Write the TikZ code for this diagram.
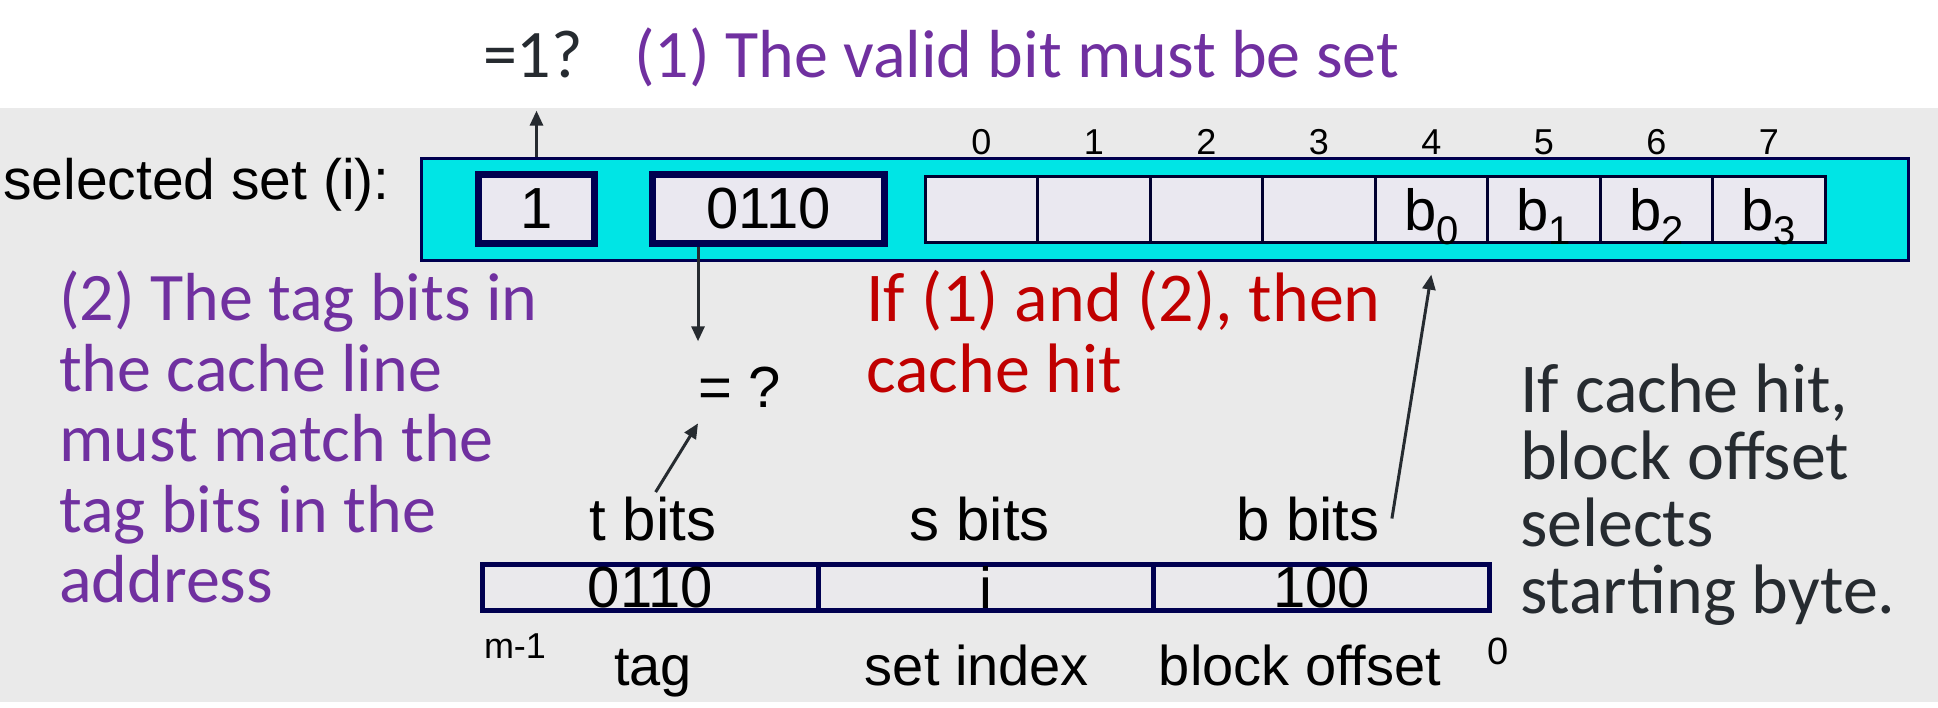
\documentclass[tikz,border=0pt]{standalone}
\usepackage{fontspec}
\usepackage{xcolor}
\usepackage{tikz}
\usetikzlibrary{positioning, arrows.meta}

\newfontfamily\arialfont{Liberation Sans}
\newfontfamily\calfont{Carlito}

\definecolor{bggray}{RGB}{234,234,234}
\definecolor{setcyan}{RGB}{0,229,229}
\definecolor{boxnavy}{RGB}{0,0,80}
\definecolor{cellfill}{RGB}{234,232,240}
\definecolor{ppurple}{RGB}{112,48,160}
\definecolor{hitred}{RGB}{192,0,0}
\definecolor{darktxt}{RGB}{38,43,48}

% byte with subscript index
\newcommand{\bsub}[1]{b\smash{\raisebox{-14pt}{\fontsize{40}{40}\selectfont #1}}}

\tikzset{
    lbl/.style={font=\arialfont\fontsize{56}{56}\selectfont, inner sep=0pt},
    idx/.style={font=\arialfont\fontsize{36}{36}\selectfont, inner sep=0pt},
    talk/.style={font=\calfont\fontsize{68}{70.5}\selectfont, inner sep=0pt, align=left},
    setbox/.style={draw=boxnavy, line width=3pt, fill=setcyan, minimum width=1487pt, minimum height=102pt},
    linebox/.style={draw=boxnavy, line width=7pt, fill=cellfill, minimum height=69pt, inner sep=0pt,
        font=\arialfont\fontsize{58}{58}\selectfont},
    cell/.style={draw=boxnavy!60!black, line width=3pt, fill=cellfill, minimum width=112.5pt,
        minimum height=66pt, inner sep=0pt, font=\arialfont\fontsize{58}{58}\selectfont},
    field/.style={draw=boxnavy, line width=5pt, fill=cellfill!40!bggray, minimum width=335.67pt,
        minimum height=46pt, inner sep=0pt, outer sep=0pt, font=\arialfont\fontsize{58}{58}\selectfont},
    arr/.style={-{Triangle[length=15pt,width=13pt]}, line width=3pt, draw=darktxt}
}

\begin{document}
\begin{tikzpicture}[x=1pt, y=-1pt]
    % Canvas
    \useasboundingbox (0,0) rectangle (1938,708);
    \fill[white] (0,0) rectangle (1938,708);
    \fill[bggray] (0,108) rectangle (1938,702);

    % Selected set
    \node[lbl, font=\arialfont\fontsize{57}{57}\selectfont, anchor=base east] (setlbl) at (390,200) {selected set (i):};
    \node[setbox] (set) at (1165,209.5) {};
    \node[linebox, minimum width=116pt] (valid) at (536.5,209) {1};
    \node[linebox, minimum width=232pt] (tagc) at (768.5,209) {0110};

    % Byte cells
    \foreach \i/\t in {0/{},1/{},2/{},3/{},4/\bsub{0},5/\bsub{1},6/\bsub{2},7/\bsub{3}} {
        \node[cell] (cell\i) at (981.25+112.5*\i,209.5) {\t};
        \node[idx, anchor=base] (num\i) at (981.25+112.5*\i,155) {\i};
    }

    % Checks
    \node[font=\calfont\fontsize{68}{68}\selectfont, text=darktxt, inner sep=0pt, anchor=base] (eq1) at (533,78) {=1?};
    \node[talk, text=ppurple, anchor=base west] (rule1) at (634,78) {(1) The valid bit must be set};
    \node[lbl, font=\arialfont\fontsize{58}{58}\selectfont, anchor=base west] (eqq) at (698,407) {= ?};

    % Address
    \node[field] (tagf) at (650.3,587.5) {0110};
    \node[field, right=0pt of tagf] (setf) {i};
    \node[field, right=0pt of setf] (offf) {100};
    \node[lbl, font=\arialfont\fontsize{60}{60}\selectfont, anchor=base] (tbits) at (653,540) {t bits};
    \node[lbl, font=\arialfont\fontsize{60}{60}\selectfont, anchor=base] (sbits) at (980,540) {s bits};
    \node[lbl, font=\arialfont\fontsize{60}{60}\selectfont, anchor=base] (bbits) at (1308,540) {b bits};
    \node[lbl, anchor=base] (tagl) at (653,685) {tag};
    \node[lbl, anchor=base] (setl) at (977,685) {set index};
    \node[lbl, anchor=base] (offl) at (1300,685) {block offset};
    \node[idx, anchor=base] (hibit) at (515,658) {m-1};
    \node[idx, font=\arialfont\fontsize{38}{38}\selectfont, anchor=base] (lobit) at (1498,664) {0};

    % Notes
    \node[talk, text=ppurple, anchor=north west] (rule2) at (59,271)
        {(2) The tag bits in\\the cache line\\must match the\\tag bits in the\\address};
    \node[talk, text=hitred, font=\calfont\fontsize{70}{71}\selectfont, anchor=north west] (hit) at (866,270)
        {If (1) and (2), then\\cache hit};
    \node[talk, text=darktxt, font=\calfont\fontsize{70}{67}\selectfont, anchor=north west] (offnote) at (1520,364)
        {If cache hit,\\block offset\\selects\\starting byte.};

    % Arrows
    \draw[arr, shorten >=32pt] (valid.north |- set.north) -- (valid.north |- eq1.south);
    \draw[arr, shorten >=25pt] (eqq.west |- tagc.south) -- (eqq.north west);
    \draw[arr, shorten <=5pt, shorten >=19pt] (tbits.north) -- ([xshift=10pt]eqq.south west);
    \draw[arr, shorten >=31pt] ([xshift=12pt]bbits.east) -- ([xshift=5pt]cell4.south);
\end{tikzpicture}
\end{document}
